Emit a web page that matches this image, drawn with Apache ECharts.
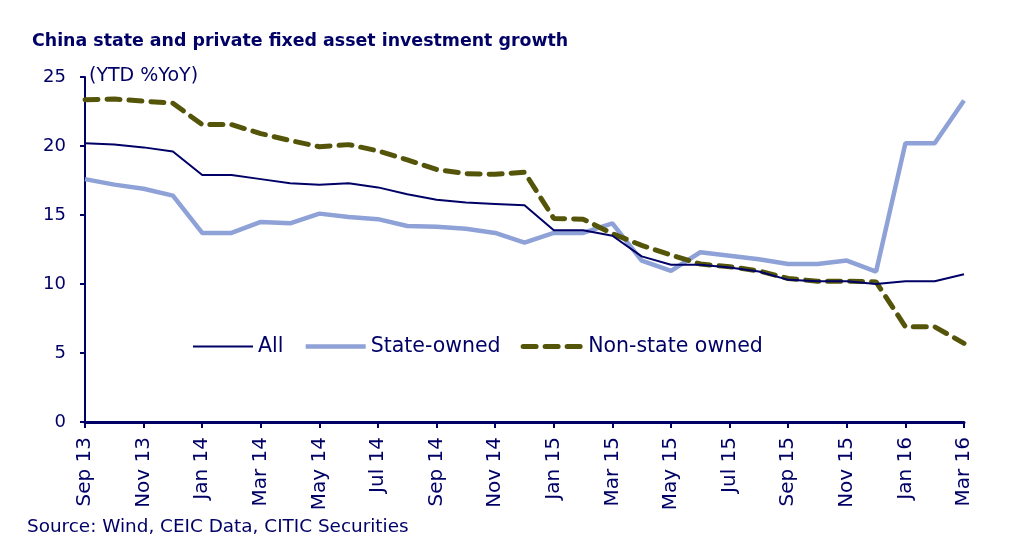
<!DOCTYPE html>
<html>
<head>
<meta charset="utf-8">
<script src="https://cdn.jsdelivr.net/npm/echarts@6/dist/echarts.min.js"></script>
<style>
html,body{margin:0;padding:0;background:#fff;}
#chart{width:1024px;height:549px;}
</style>
</head>
<body>
<div id="chart"></div>
<script>
var categories = ["Sep 13","Oct 13","Nov 13","Dec 13","Jan 14","Feb 14","Mar 14","Apr 14","May 14","Jun 14","Jul 14","Aug 14","Sep 14","Oct 14","Nov 14","Dec 14","Jan 15","Feb 15","Mar 15","Apr 15","May 15","Jun 15","Jul 15","Aug 15","Sep 15","Oct 15","Nov 15","Dec 15","Jan 16","Feb 16","Mar 16"];
var allFAI = [20.2,20.1,19.9,19.6,17.9,17.9,17.6,17.3,17.2,17.3,17.0,16.5,16.1,15.9,15.8,15.7,13.9,13.9,13.5,12.0,11.4,11.4,11.2,10.9,10.3,10.2,10.2,10.0,10.2,10.2,10.7];
var stateOwned = [17.6,17.2,16.9,16.4,13.7,13.7,14.5,14.4,15.1,14.85,14.7,14.2,14.15,14.0,13.7,13.0,13.7,13.7,14.4,11.7,10.95,12.3,12.05,11.8,11.45,11.45,11.7,10.9,20.2,20.2,23.3];
var nonState = [23.35,23.4,23.25,23.1,21.55,21.55,20.9,20.4,19.95,20.1,19.65,19.0,18.3,18.0,17.95,18.1,14.75,14.7,13.65,12.8,12.1,11.45,11.25,10.95,10.4,10.2,10.2,10.15,6.9,6.9,5.7];
var yTicks = [0,5,10,15,20,25];

var navy = '#000066';
var stateColor = '#8fa2d7';
var nonStateColor = '#55550a';
var chart = echarts.init(document.getElementById('chart'));
chart.setOption({
  animation: false,
  backgroundColor: '#fff',
  title: {
    text: 'China state and private fixed asset investment growth',
    left: 27, top: 28,
    textStyle: {fontFamily: 'DejaVu Sans', fontWeight: 'bold', fontSize: 17.4, color: navy}
  },
  graphic: [
    {type: 'text', left: 89, top: 67, style: {text: '(YTD %YoY)', font: '19px "DejaVu Sans"', fill: navy}},
    {type: 'text', left: 27, top: 518, style: {text: 'Source: Wind, CEIC Data, CITIC Securities', font: '18.4px "DejaVu Sans"', fill: navy}}
  ],
  legend: {
    left: 187, top: 331,
    itemWidth: 60, itemHeight: 12, itemGap: 20,
    textStyle: {fontFamily: 'DejaVu Sans', fontSize: 20.5, color: navy},
    data: [
      {name: 'All', itemStyle: {opacity: 0}, lineStyle: {width: 2, color: navy}},
      {name: 'State-owned', itemStyle: {opacity: 0}, lineStyle: {width: 4.5, color: stateColor}},
      {name: 'Non-state owned', itemStyle: {opacity: 0}, lineStyle: {width: 5, color: nonStateColor, type: [13, 9], cap: 'round'}}
    ]
  },
  grid: {left: 85, right: 60, top: 77, bottom: 127, containLabel: false},
  xAxis: {
    type: 'category', data: categories, boundaryGap: false,
    axisLine: {lineStyle: {color: navy, width: 3}},
    axisTick: {interval: 1, length: 6, lineStyle: {color: navy, width: 2}},
    axisLabel: {interval: 1, rotate: 90, margin: 15, fontFamily: 'DejaVu Sans', fontSize: 20, color: navy}
  },
  yAxis: {
    type: 'value', min: yTicks[0], max: yTicks[yTicks.length-1], interval: 5,
    axisLine: {show: true, lineStyle: {color: navy, width: 2}},
    axisTick: {show: true, length: 5, lineStyle: {color: navy, width: 2}},
    splitLine: {show: false},
    axisLabel: {margin: 19, fontFamily: 'DejaVu Sans', fontSize: 18, color: navy}
  },
  series: [
    {name: 'All', type: 'line', data: allFAI, symbol: 'none', z: 4,
     lineStyle: {color: navy, width: 2}, itemStyle: {color: navy}},
    {name: 'State-owned', type: 'line', data: stateOwned, symbol: 'none', z: 2,
     lineStyle: {color: stateColor, width: 4.5}, itemStyle: {color: stateColor}},
    {name: 'Non-state owned', type: 'line', data: nonState, symbol: 'none', z: 3,
     lineStyle: {color: nonStateColor, width: 5, type: [13, 9], cap: 'round'}, itemStyle: {color: nonStateColor}}
  ]
});
</script>
</body>
</html>
